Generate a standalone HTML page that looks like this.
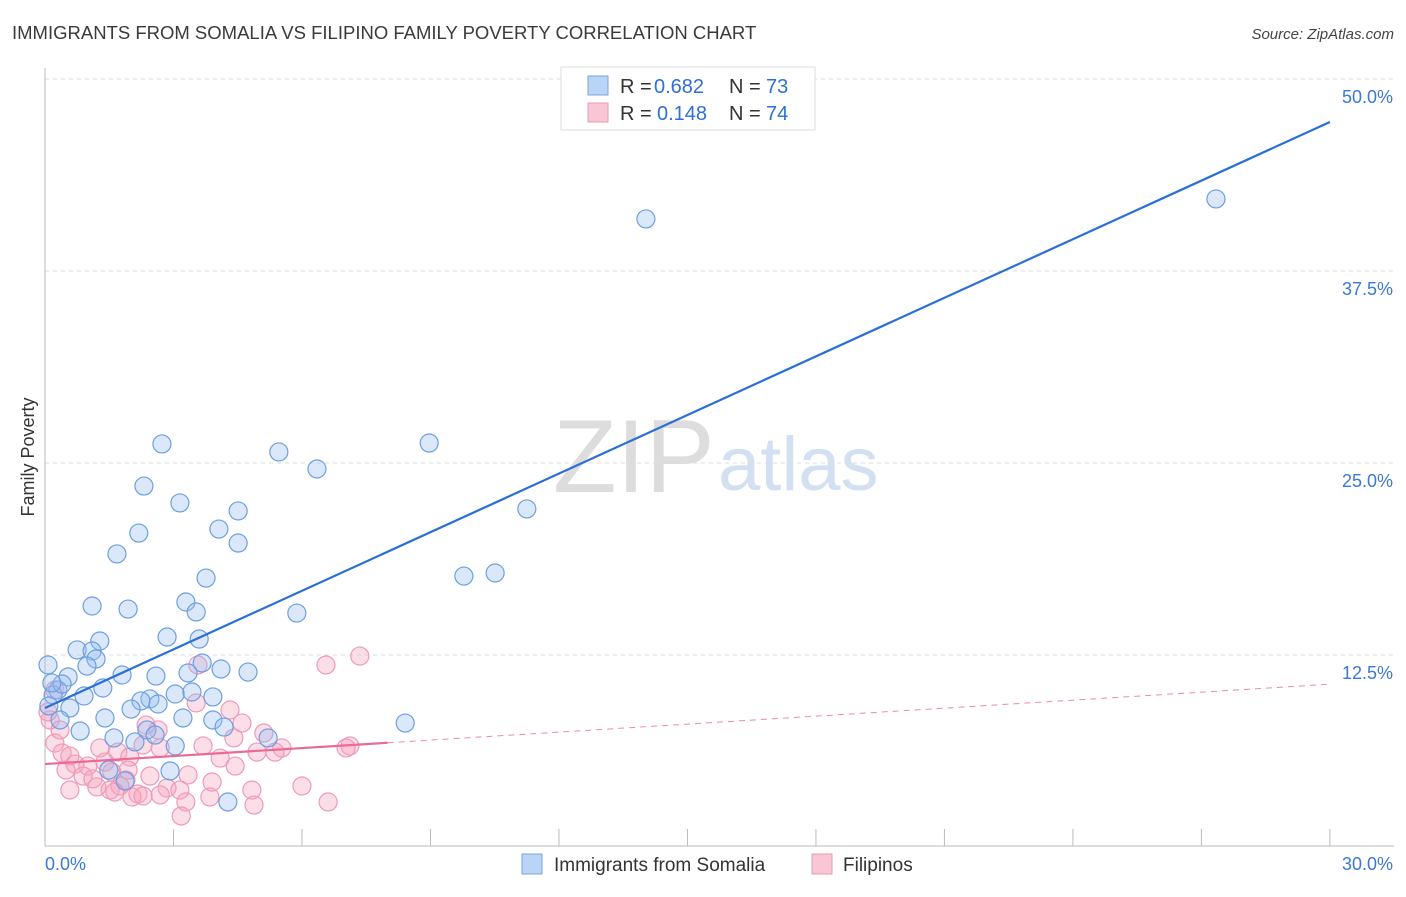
<!DOCTYPE html>
<html><head><meta charset="utf-8">
<style>
body{margin:0;background:#fff;font-family:"Liberation Sans",sans-serif;}
svg text{font-family:"Liberation Sans",sans-serif;}
</style></head>
<body>
<svg id="chart" width="1406" height="892" viewBox="0 0 1406 892" xmlns="http://www.w3.org/2000/svg">
<text x="12" y="39" font-size="18.5" fill="#3a3a3a">IMMIGRANTS FROM SOMALIA VS FILIPINO FAMILY POVERTY CORRELATION CHART</text>
<text x="1394" y="39" font-size="15" fill="#444" font-style="italic" text-anchor="end">Source: ZipAtlas.com</text>
<text transform="translate(34,457) rotate(-90)" font-size="18" fill="#333" text-anchor="middle">Family Poverty</text>
<g>
<text x="553" y="492" font-size="104" fill="#ddd" font-family="Liberation Serif,serif">ZIP</text>
<text x="718" y="490" font-size="76" fill="#d2e0f2">atlas</text>
</g>
<g id="grid"></g><g id="axes"></g><g id="pts"></g><g id="lines"></g>
<g>
<rect x="561" y="67" width="254" height="63" fill="#fff" stroke="#ddd"/>
<rect x="588" y="76" width="20" height="19" fill="#b8d4f6" stroke="#7aa6e0"/>
<text x="620" y="93" font-size="20" fill="#333">R =</text>
<text x="654" y="93" font-size="20" fill="#2f6fd6">0.682</text>
<text x="729" y="93" font-size="20" fill="#333">N =</text>
<text x="766" y="93" font-size="20" fill="#2f6fd6">73</text>
<rect x="588" y="103" width="20" height="19" fill="#f9c6d6" stroke="#ea9ab4"/>
<text x="620" y="120" font-size="20" fill="#333">R =</text>
<text x="657" y="120" font-size="20" fill="#2f6fd6">0.148</text>
<text x="729" y="120" font-size="20" fill="#333">N =</text>
<text x="766" y="120" font-size="20" fill="#2f6fd6">74</text>
</g>
<g>
<rect x="522" y="854" width="20" height="20" fill="#b8d4f6" stroke="#7aa6e0"/>
<text x="554" y="871" font-size="19" fill="#333">Immigrants from Somalia</text>
<rect x="812" y="854" width="20" height="20" fill="#f9c6d6" stroke="#ea9ab4"/>
<text x="843" y="871" font-size="19" fill="#333">Filipinos</text>
</g>
</svg>
<script>
const yTicks=[12.5,25,37.5,50];
const yTickLabels=["12.5%","25.0%","37.5%","50.0%"];
const xTickVals=[0,3,6,9,12,15,18,21,24,27,30];
const blueX=[14.03,27.34,2.73,5.46,8.97,6.35,2.31,3.15,4.51,4.06,11.25,2.19,4.51,1.68,3.76,9.78,10.51,1.10,1.94,3.29,3.53,5.88,2.85,1.28,3.60,0.75,1.10,1.19,0.98,3.67,4.11,4.74,3.34,0.07,0.54,1.80,2.59,1.35,0.30,0.19,0.91,2.45,2.24,3.04,3.43,3.92,2.64,0.58,0.09,2.01,1.40,3.22,3.92,4.18,8.41,0.35,0.82,2.38,1.61,2.57,3.04,2.10,5.21,1.49,2.92,1.87,4.27,0.40,0.16];
const blueY=[40.89,42.19,26.24,25.72,26.30,24.61,23.50,22.40,21.88,20.70,22.01,20.44,19.79,19.08,17.51,17.64,17.84,15.69,15.49,15.95,15.30,15.23,13.67,13.41,13.54,12.83,12.76,12.24,11.78,11.98,11.59,11.39,11.33,11.85,11.07,11.20,11.13,10.35,10.22,9.90,9.83,9.64,9.51,9.96,10.09,9.77,9.31,9.05,9.18,8.98,8.40,8.40,8.27,7.81,8.07,8.27,7.55,7.62,7.10,7.29,6.58,6.84,7.10,5.01,4.95,4.30,2.93,10.61,10.68];
const pinkX=[7.35,6.56,3.57,3.53,4.32,4.60,2.36,2.64,5.11,0.12,2.29,2.69,3.69,4.41,5.53,4.95,7.12,7.03,0.23,0.40,0.58,1.28,1.70,1.98,1.40,1.00,0.70,0.49,1.56,0.89,1.12,1.89,2.45,3.34,1.75,1.21,1.63,2.17,2.85,3.15,3.85,4.83,6.00,6.61,4.88,3.29,2.29,2.03,3.18,4.44,4.09,0.35,0.23,0.07,0.58,1.52,5.37,2.69,3.90,1.94];
const pinkY=[12.43,11.85,11.85,9.38,8.92,8.07,7.94,7.62,7.42,8.27,6.64,6.45,6.58,7.10,6.45,6.18,6.58,6.45,6.77,6.12,5.92,6.45,6.18,5.86,5.53,5.27,5.40,5.01,4.88,4.62,4.43,4.36,4.62,4.69,3.97,3.91,3.58,3.45,3.84,3.71,3.26,3.71,3.97,2.93,2.73,2.93,3.32,3.26,2.02,5.27,5.79,7.62,10.22,8.79,3.71,3.71,6.18,3.39,4.23,5.01];
const blueFit=[9.05,47.2];
const pinkFit=[5.4,10.6];
const pinkSolidEnd=8.0;

const NS="http://www.w3.org/2000/svg";
const X=v=>45+v*42.83, Y=v=>847-v*15.36;
function mk(tag,attrs,parent){const e=document.createElementNS(NS,tag);for(const k in attrs)e.setAttribute(k,attrs[k]);document.getElementById(parent).appendChild(e);return e;}
yTicks.forEach((t,i)=>{
 const g=mk('line',{x1:45,x2:1394,y1:Y(t),y2:Y(t),stroke:'#ddd','stroke-dasharray':'4,4'},'grid');
 
 
 const l=mk('text',{x:1393,y:Y(t)+24,'font-size':18,fill:'#3b78d8','text-anchor':'end'},'axes');
 l.textContent=yTickLabels[i];
 
 
});
const ya=mk('line',{x1:45,x2:45,y1:68,y2:846,stroke:'#bbb'},'axes');


const xa=mk('line',{x1:45,x2:1394,y1:846,y2:846,stroke:'#bbb'},'axes');


xTickVals.forEach(t=>{const k=mk('line',{x1:X(t),x2:X(t),y1:829,y2:846,stroke:'#bbb'},'axes');
 
 });
const x0=mk('text',{x:45,y:870,'font-size':18,fill:'#3b78d8'},'axes');x0.textContent='0.0%';


const x1=mk('text',{x:1393,y:870,'font-size':18,fill:'#3b78d8','text-anchor':'end'},'axes');x1.textContent='30.0%';


pinkX.forEach((v,i)=>{const c=mk('circle',{cx:X(v),cy:Y(pinkY[i]),r:9,fill:'rgba(245,160,190,0.35)',stroke:'#ee9ab6','stroke-width':1.2},'pts');
 
 });
blueX.forEach((v,i)=>{const c=mk('circle',{cx:X(v),cy:Y(blueY[i]),r:9,fill:'rgba(150,190,240,0.35)',stroke:'#6d9fe0','stroke-width':1.2},'pts');
 
 });
const bl=mk('line',{x1:X(0),y1:Y(blueFit[0]),x2:X(30),y2:Y(blueFit[1]),stroke:'#2a6fd6','stroke-width':2.2},'lines');


const pv=x=>pinkFit[0]+(pinkFit[1]-pinkFit[0])*x/30;
const pl=mk('line',{x1:X(0),y1:Y(pv(0)),x2:X(pinkSolidEnd),y2:Y(pv(pinkSolidEnd)),stroke:'#ea6a95','stroke-width':2.2},'lines');


const pd=mk('line',{x1:X(pinkSolidEnd),y1:Y(pv(pinkSolidEnd)),x2:X(30),y2:Y(pv(30)),stroke:'#ea8aab','stroke-width':1,'stroke-dasharray':'6,5'},'lines');


</script>
</body></html>
